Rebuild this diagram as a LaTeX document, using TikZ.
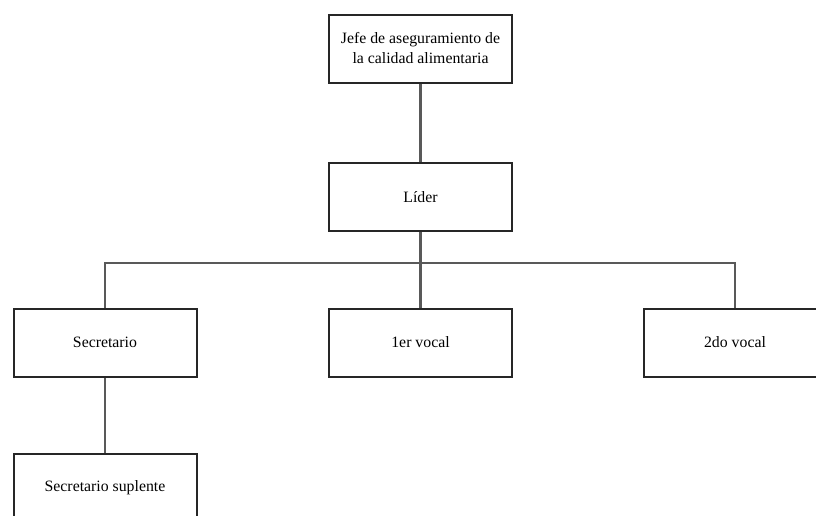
\documentclass[tikz,border=0pt]{standalone}
\usepackage{fontspec}
\setmainfont{Liberation Serif}
\begin{document}
\begin{tikzpicture}[x=1pt,y=-1pt,
  box/.style={draw=black!85,line width=2pt,fill=white,minimum width=183pt,minimum height=68pt,inner sep=2pt,align=center,font=\fontsize{15.8}{20}\selectfont},
  conn/.style={draw=black!65,line width=2.2pt}]
\useasboundingbox (0,0) rectangle (816,515);
\clip (0,0) rectangle (816,515);
\fill[white] (0,0) rectangle (816,515);
\node[box] (jefe) at (420.5,48.5) {Jefe de aseguramiento de\\la calidad alimentaria};
\node[box] (lider) at (420.5,197) {Líder};
\node[box] (sec) at (105,342.5) {Secretario};
\node[box] (v1) at (420.5,342.5) {1er vocal};
\node[box] (v2) at (735,342.5) {2do vocal};
\node[box] (supl) at (105,487.5) {Secretario suplente};
\coordinate (bus) at (420.5,263);
\draw[conn] (jefe.south) -- (lider.north);
\draw[conn] (lider.south) -- (v1.north);
\draw[conn] (sec.north) |- (bus) -| (v2.north);
\draw[conn] (sec.south) -- (supl.north);
\end{tikzpicture}
\end{document}
